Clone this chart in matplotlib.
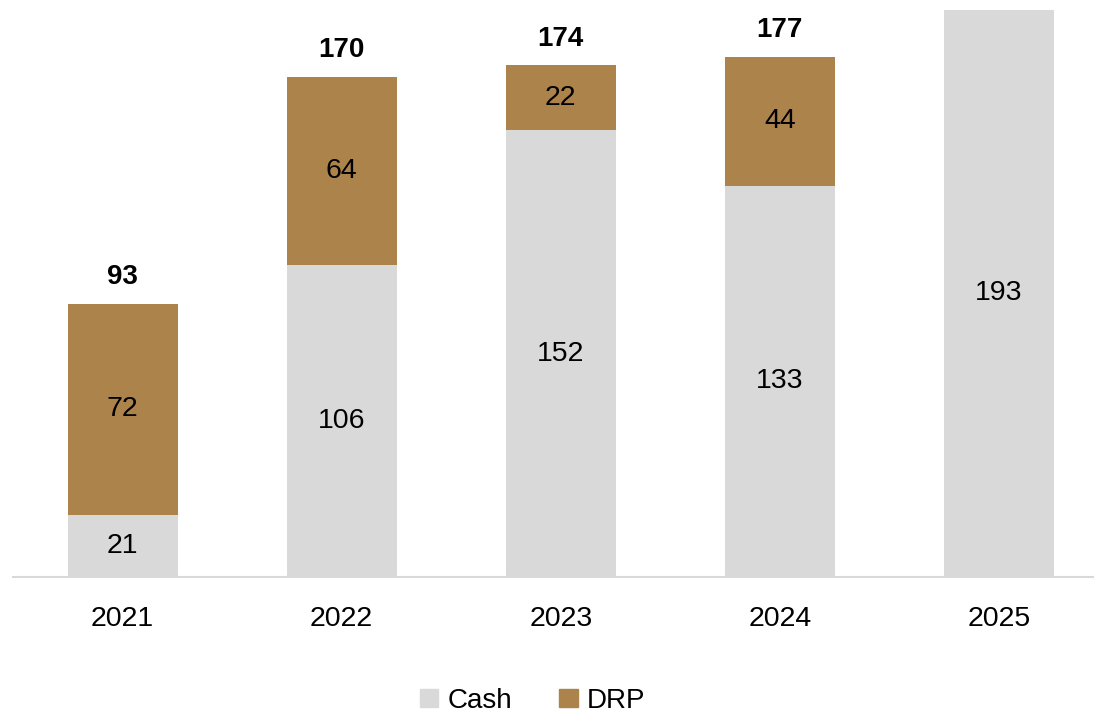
import matplotlib.pyplot as plt
from matplotlib.patches import Patch

years = ["2021", "2022", "2023", "2024", "2025"]
cash = [21, 106, 152, 133, 193]
drp = [72, 64, 22, 44, 0]
totals = [93, 170, 174, 177, None]

CASH_COLOR = "#D9D9D9"
DRP_COLOR = "#AD834C"

plt.rcParams["font.family"] = ["Liberation Sans", "DejaVu Sans"]

fig = plt.figure(figsize=(10.94, 7.12), dpi=100)
ax = fig.add_axes([13 / 1094, 135 / 712, 1 - 13 / 1094, 577 / 712])

x = list(range(len(years)))
width = 110 / 219
ax.bar(x, cash, width=width, color=CASH_COLOR, zorder=2)
ax.bar(x, drp, width=width, bottom=cash, color=DRP_COLOR, zorder=2)

for i in x:
    ax.text(i, cash[i] / 2, str(cash[i]), ha="center", va="center", fontsize=20.5)
    if drp[i]:
        ax.text(i, cash[i] + drp[i] / 2, str(drp[i]), ha="center", va="center", fontsize=20.5)
    if totals[i] is not None:
        ax.annotate(str(totals[i]), (i, cash[i] + drp[i]), xytext=(0, 10),
                    textcoords="offset points", ha="center", va="bottom",
                    fontsize=20, fontweight="bold")

ax.set_xlim(-0.5, (1094 - 123) / 219)
ax.set_ylim(0, 577 / 2.94)
ax.set_xticks(x)
ax.set_xticklabels(years, fontsize=20.5)
ax.tick_params(axis="x", length=0, pad=21)
ax.set_yticks([])
for side in ["top", "right", "left"]:
    ax.spines[side].set_visible(False)
ax.spines["bottom"].set_color("#D9D9D9")
ax.spines["bottom"].set_linewidth(1.5)

handles = [Patch(color=CASH_COLOR, label="Cash"), Patch(color=DRP_COLOR, label="DRP")]
fig.legend(handles=handles, loc="center", bbox_to_anchor=(0.487, 0.016), ncol=2,
           frameon=False, fontsize=20, handlelength=0.65, handleheight=0.65,
           handletextpad=0.35, columnspacing=1.7)

fig.savefig("out.png", dpi=100)
